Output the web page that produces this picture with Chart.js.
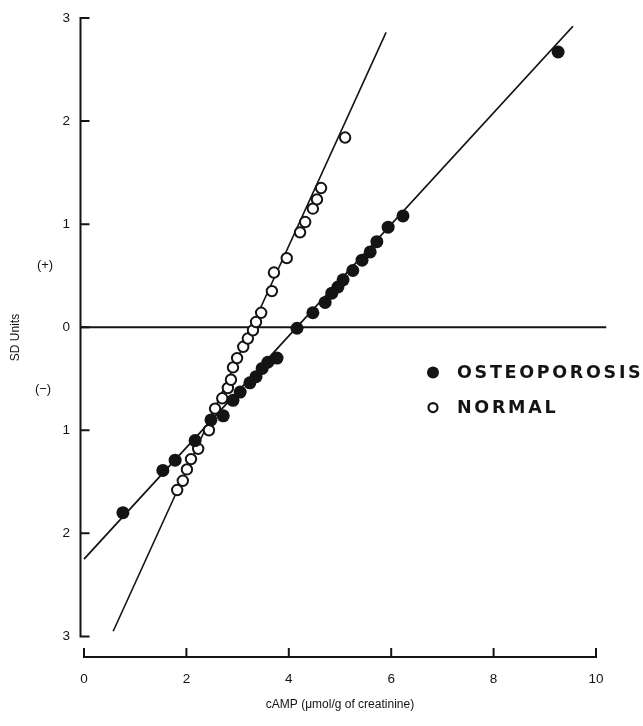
<!DOCTYPE html>
<html>
<head>
<meta charset="utf-8">
<script src="https://cdn.jsdelivr.net/npm/chart.js@4.4.0/dist/chart.umd.min.js"></script>
<style>
  html, body { margin: 0; padding: 0; background: #fff; }
  canvas { display: block; }
</style>
</head>
<body>
<canvas id="chart0" width="643" height="726"></canvas>
<script>
// values
let osteoX = [0.76, 1.54, 1.78, 2.17, 2.48, 2.72, 2.91, 3.05, 3.24, 3.36, 3.48, 3.59, 3.77, 4.16, 4.47, 4.71, 4.84, 4.96, 5.06, 5.25, 5.43, 5.59, 5.72, 5.94, 6.23, 9.26];
let osteoY = [-1.80, -1.39, -1.29, -1.10, -0.90, -0.86, -0.71, -0.63, -0.54, -0.48, -0.40, -0.34, -0.30, -0.01, 0.14, 0.24, 0.33, 0.39, 0.46, 0.55, 0.65, 0.73, 0.83, 0.97, 1.08, 2.67];

let normalX = [1.82, 1.93, 2.01, 2.09, 2.23, 2.44, 2.56, 2.70, 2.81, 2.87, 2.91, 2.99, 3.11, 3.20, 3.30, 3.36, 3.46, 3.67, 3.71, 3.96, 4.22, 4.32, 4.47, 4.55, 4.63, 5.10];
let normalY = [-1.58, -1.49, -1.38, -1.28, -1.18, -1.00, -0.79, -0.69, -0.59, -0.51, -0.39, -0.30, -0.19, -0.11, -0.03, 0.05, 0.14, 0.35, 0.53, 0.67, 0.92, 1.02, 1.15, 1.24, 1.35, 1.84];

// fitted lines (end points)
let osteoFitX = [0, 9.55];
let osteoFitY = [-2.25, 2.92];
let normalFitX = [0.57, 5.9];
let normalFitY = [-2.95, 2.86];

// zero reference line
let zeroLineX = [-0.08, 10.2];
let zeroLineY = [0, 0];

let xTicks = [0, 2, 4, 6, 8, 10];
let yTicks = [-3, -2, -1, 0, 1, 2, 3];

let ink = '#141414';
let chart0 = document.getElementById('chart0');

function toPoints(xs, ys) {
    return xs.map((x, i) => ({ x: x, y: ys[i] }));
}

// draws the detached axes of the original figure, plus side notes and the legend
let figurePlugin = {
    id: 'figure',
    afterDatasetsDraw(chart) {
        let ctx = chart.ctx;
        let xs = chart.scales.x;
        let ys = chart.scales.y;

        ctx.save();
        ctx.strokeStyle = ink;
        ctx.lineWidth = 2;
        ctx.lineCap = 'butt';

        // y axis
        let ax = xs.getPixelForValue(0) - 3.5;
        ctx.beginPath();
        ctx.moveTo(ax, ys.getPixelForValue(3));
        ctx.lineTo(ax, ys.getPixelForValue(-3));
        yTicks.forEach(v => {
            let py = ys.getPixelForValue(v);
            ctx.moveTo(ax - 1, py);
            ctx.lineTo(ax + 9, py);
        });
        ctx.stroke();

        // x axis
        let ay = ys.getPixelForValue(ys.min);
        ctx.beginPath();
        ctx.moveTo(xs.getPixelForValue(0), ay);
        ctx.lineTo(xs.getPixelForValue(10), ay);
        xTicks.forEach(v => {
            let px = xs.getPixelForValue(v);
            ctx.moveTo(px, ay + 1);
            ctx.lineTo(px, ay - 9);
        });
        ctx.stroke();

        // (+) / (-) notes
        ctx.fillStyle = ink;
        ctx.font = '13px "Liberation Sans", Arial, sans-serif';
        ctx.textAlign = 'center';
        ctx.textBaseline = 'middle';
        ctx.fillText('(+)', 45, ys.getPixelForValue(0.6));
        ctx.fillText('(\u2212)', 43, ys.getPixelForValue(-0.6));

        // legend
        let lx = 433;
        let ly1 = ys.getPixelForValue(-0.44);
        let ly2 = ys.getPixelForValue(-0.78);
        ctx.beginPath();
        ctx.arc(lx, ly1, 6, 0, Math.PI * 2);
        ctx.fill();
        ctx.beginPath();
        ctx.lineWidth = 2.2;
        ctx.arc(lx, ly2, 4.5, 0, Math.PI * 2);
        ctx.stroke();

        ctx.font = 'bold 17.5px "DejaVu Sans", sans-serif';
        ctx.textAlign = 'left';
        ctx.letterSpacing = '2.7px';
        ctx.fillText('OSTEOPOROSIS', 457, ly1 + 1);
        ctx.fillText('NORMAL', 457, ly2 + 1);
        ctx.restore();
    }
};

new Chart(chart0, {
    data: {
        datasets: [
            {
                type: 'scatter',
                label: 'OSTEOPOROSIS',
                data: toPoints(osteoX, osteoY),
                pointRadius: 6.5,
                pointBackgroundColor: ink,
                pointBorderColor: ink,
                pointBorderWidth: 0,
                order: 1,
                clip: false
            },
            {
                type: 'scatter',
                label: 'NORMAL',
                data: toPoints(normalX, normalY),
                pointRadius: 5.2,
                pointBackgroundColor: '#fff',
                pointBorderColor: ink,
                pointBorderWidth: 2,
                order: 2,
                clip: false
            },
            {
                type: 'line',
                label: 'osteo fit',
                data: toPoints(osteoFitX, osteoFitY),
                borderColor: ink,
                borderWidth: 1.8,
                pointRadius: 0,
                order: 3,
                clip: false
            },
            {
                type: 'line',
                label: 'normal fit',
                data: toPoints(normalFitX, normalFitY),
                borderColor: ink,
                borderWidth: 1.6,
                pointRadius: 0,
                order: 3,
                clip: false
            },
            {
                type: 'line',
                label: 'zero',
                data: toPoints(zeroLineX, zeroLineY),
                borderColor: ink,
                borderWidth: 2,
                pointRadius: 0,
                order: 3,
                clip: false
            }
        ]
    },
    options: {
        responsive: false,
        animation: false,
        devicePixelRatio: 1,
        layout: {
            padding: { top: 18, right: 47, bottom: 0, left: 0 }
        },
        plugins: {
            legend: { display: false },
            tooltip: { enabled: false }
        },
        scales: {
            x: {
                type: 'linear',
                min: 0,
                max: 10,
                grid: { display: false },
                border: { display: false },
                afterBuildTicks: scale => {
                    scale.ticks = xTicks.map(v => ({ value: v }));
                },
                afterFit: scale => {
                    scale.height = 69;
                },
                ticks: {
                    color: ink,
                    padding: 6,
                    font: { family: '"Liberation Sans", Arial, sans-serif', size: 13.5 }
                },
                title: {
                    display: true,
                    text: 'cAMP (\u03bcmol/g of creatinine)',
                    color: ink,
                    padding: { top: 0, bottom: 14 },
                    font: { family: '"Liberation Sans", Arial, sans-serif', size: 12 }
                }
            },
            y: {
                type: 'linear',
                min: -3.2,
                max: 3,
                grid: { display: false },
                border: { display: false },
                afterBuildTicks: scale => {
                    scale.ticks = yTicks.map(v => ({ value: v }));
                },
                afterFit: scale => {
                    scale.width = 84;
                },
                ticks: {
                    color: ink,
                    padding: 6,
                    callback: v => Math.abs(v),
                    font: { family: '"Liberation Sans", Arial, sans-serif', size: 13.5 }
                },
                title: {
                    display: true,
                    text: 'SD Units',
                    color: ink,
                    padding: { top: 8, bottom: 0 },
                    font: { family: '"Liberation Sans", Arial, sans-serif', size: 12 }
                }
            }
        }
    },
    plugins: [figurePlugin]
});
</script>
</body>
</html>
